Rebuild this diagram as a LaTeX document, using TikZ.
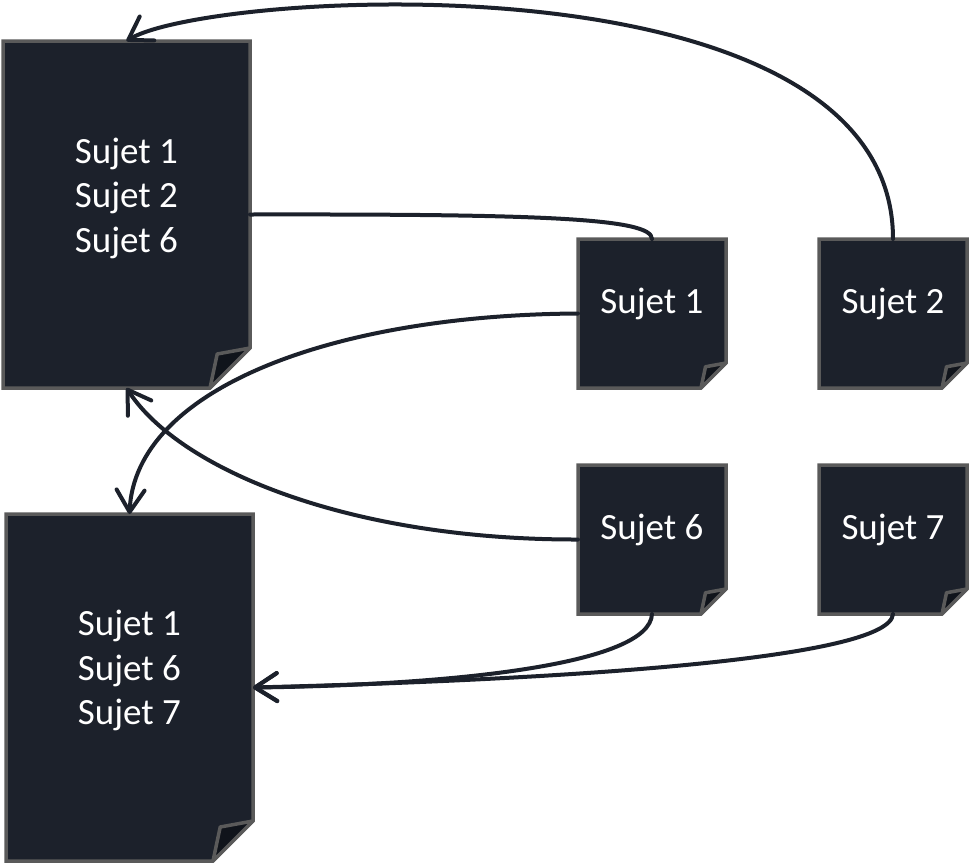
\documentclass[tikz,border=0pt]{standalone}
\usepackage{fontspec}
\setmainfont{Carlito}
\usetikzlibrary{arrows.meta}
\definecolor{notefill}{HTML}{1C212B}
\definecolor{notefold}{HTML}{10141B}
\definecolor{noteedge}{HTML}{5A5A5A}
\definecolor{linkc}{HTML}{1C212B}
\tikzset{
 noteshape/.style={fill=notefill, draw=noteedge, line width=1.75pt, line join=miter},
 foldshape/.style={fill=notefold, draw=noteedge, line width=1.75pt, line join=round},
 anchorbox/.style={draw=none, inner sep=0pt, outer sep=0pt, rectangle},
 notetext/.style={text=white, font=\fontsize{18.5pt}{22pt}\selectfont, anchor=base, inner sep=0pt},
 link/.style={draw=linkc, line width=2pt, line cap=round},
 linkarrow/.style={link, -{Straight Barb[round, length=11pt, width=14pt]}}
}
\newcommand\notebox[6]{%
 \path[noteshape] (#2,#3) -- (#4,#3) -- (#4,{#5-#6}) -- ({#4-#6},#5) -- (#2,#5) -- cycle;
 \path[foldshape] (#4,{#5-#6}) -- ({#4-0.82*#6},{#5-0.85*#6}) -- ({#4-#6},#5) -- cycle;
 \node[anchorbox, minimum width={(#4-#2)*0.5pt}, minimum height={(#5-#3)*0.5pt}] (#1) at ({(#2+#4)/2},{(#3+#5)/2}) {};
}
\begin{document}
\begin{tikzpicture}[x=0.5pt, y=-0.5pt]
\useasboundingbox (0,0) rectangle (970,863);
\notebox{A}{3}{41}{250}{388}{40}
\notebox{B}{6}{514}{253}{861}{40}
\notebox{s1}{578}{239}{726}{388}{25}
\notebox{s2}{819}{239}{967}{388}{25}
\notebox{s6}{578}{465}{726}{614}{25}
\notebox{s7}{819}{465}{967}{614}{25}
\node[notetext] (ta1) at (126.5,163) {Sujet 1};
\node[notetext] (ta2) at (126.5,207) {Sujet 2};
\node[notetext] (ta3) at (126.5,252) {Sujet 6};
\node[notetext] (tb1) at (129.5,635) {Sujet 1};
\node[notetext] (tb2) at (129.5,680) {Sujet 6};
\node[notetext] (tb3) at (129.5,724) {Sujet 7};
\node[notetext] (t1) at (652,313) {Sujet 1};
\node[notetext] (t2) at (893,313) {Sujet 2};
\node[notetext] (t6) at (652,539) {Sujet 6};
\node[notetext] (t7) at (893,539) {Sujet 7};
\draw[linkarrow] (s2.north) .. controls (893,-50) and (210,-10) .. (A.north);
\draw[link] (A.east) .. controls (540,214) and (652,218) .. (s1.north);
\draw[linkarrow] (s1.west) .. controls (330,315) and (135,390) .. (B.north);
\draw[linkarrow] (s6.west) .. controls (350,540) and (180,470) .. (A.south);
\draw[linkarrow] (s6.south) .. controls (650,665) and (450,685) .. (B.east);
\draw[linkarrow] (s7.south) .. controls (890,660) and (550,680) .. (B.east);
\end{tikzpicture}
\end{document}
